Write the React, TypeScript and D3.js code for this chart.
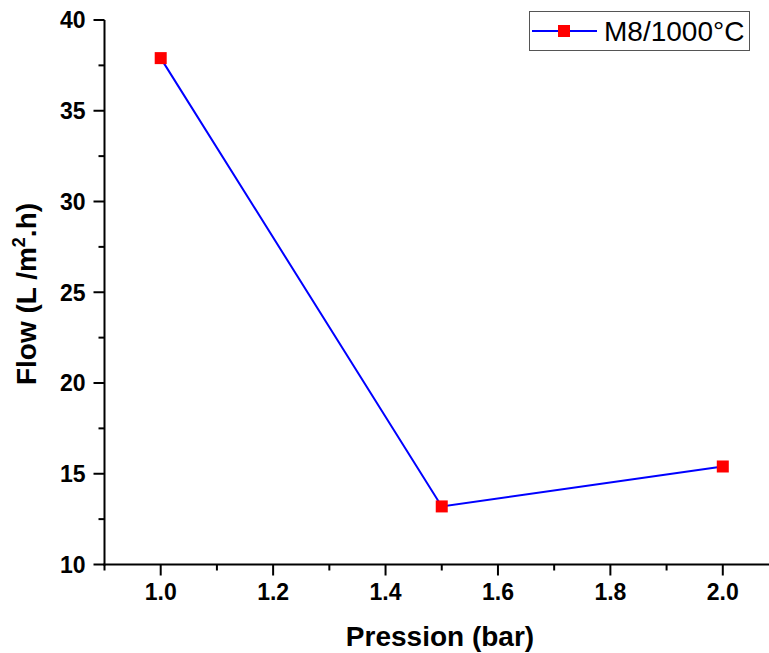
import React from "react";
import * as d3 from "d3";

const pressure = [1.0, 1.5, 2.0];
const flow = [37.9, 13.2, 15.4];
const seriesName = "M8/1000°C";
const xTicks = [1.0, 1.2, 1.4, 1.6, 1.8, 2.0];
const xMinor = [0.9, 1.1, 1.3, 1.5, 1.7, 1.9, 2.1];
const yTicks = [10, 15, 20, 25, 30, 35, 40];
const yMinor = [12.5, 17.5, 22.5, 27.5, 32.5, 37.5];

export default function App() {
  const W = 769, H = 653;
  const left = 104.5, right = 779, top = 20, bottom = 564.5;
  const x = d3.scaleLinear().domain([0.9, 2.1]).range([left, right]);
  const y = d3.scaleLinear().domain([10, 40]).range([bottom, top]);
  const line = d3.line<number>().x((_, i) => x(pressure[i])).y((d) => y(d));
  const font = "'Liberation Sans', Arial, sans-serif";
  return (
    <svg width={W} height={H} style={{ position: "absolute", left: 0, top: 0 }} fontFamily={font}>
      <rect width={W} height={H} fill="#fff" />
      <path d={line(flow) || ""} fill="none" stroke="#0000ff" strokeWidth={2} />
      {flow.map((v, i) => (
        <rect key={i} x={x(pressure[i]) - 6} y={y(v) - 6} width={12} height={12} fill="#ff0000" />
      ))}
      {/* axes */}
      <line x1={left} x2={left} y1={top} y2={bottom + 1} stroke="#000" strokeWidth={2} />
      <line x1={left - 1} x2={right} y1={bottom} y2={bottom} stroke="#000" strokeWidth={2} />
      {yTicks.map((t) => (
        <g key={t}>
          <line x1={left - 11} x2={left} y1={y(t)} y2={y(t)} stroke="#000" strokeWidth={2} />
          <text x={left - 19} y={y(t)} dy="0.36em" textAnchor="end" fontSize={23} fontWeight="bold">{t}</text>
        </g>
      ))}
      {yMinor.map((t) => (
        <line key={t} x1={left - 6} x2={left} y1={y(t)} y2={y(t)} stroke="#000" strokeWidth={2} />
      ))}
      {xTicks.map((t) => (
        <g key={t}>
          <line x1={x(t)} x2={x(t)} y1={bottom} y2={bottom + 11} stroke="#000" strokeWidth={2} />
          <text x={x(t)} y={600} textAnchor="middle" fontSize={23} fontWeight="bold">{t.toFixed(1)}</text>
        </g>
      ))}
      {xMinor.map((t) => (
        <line key={t} x1={x(t)} x2={x(t)} y1={bottom} y2={bottom + 6} stroke="#000" strokeWidth={2} />
      ))}
      <text x={440} y={646} textAnchor="middle" fontSize={28} fontWeight="bold">Pression (bar)</text>
      <text transform={`translate(36, 294) rotate(-90)`} textAnchor="middle" fontSize={28} fontWeight="bold">
        Flow (L /m<tspan dy={-11} fontSize={18}>2</tspan><tspan dy={11}>.h)</tspan>
      </text>
      {/* legend */}
      <rect x={529.5} y={11.5} width={220} height={39} fill="#fff" stroke="#555" strokeWidth={1} />
      <line x1={532} x2={597} y1={31} y2={31} stroke="#0000ff" strokeWidth={2} />
      <rect x={558} y={25} width={12} height={12} fill="#ff0000" />
      <text x={604} y={31} dy="0.36em" fontSize={28}>{seriesName}</text>
    </svg>
  );
}
